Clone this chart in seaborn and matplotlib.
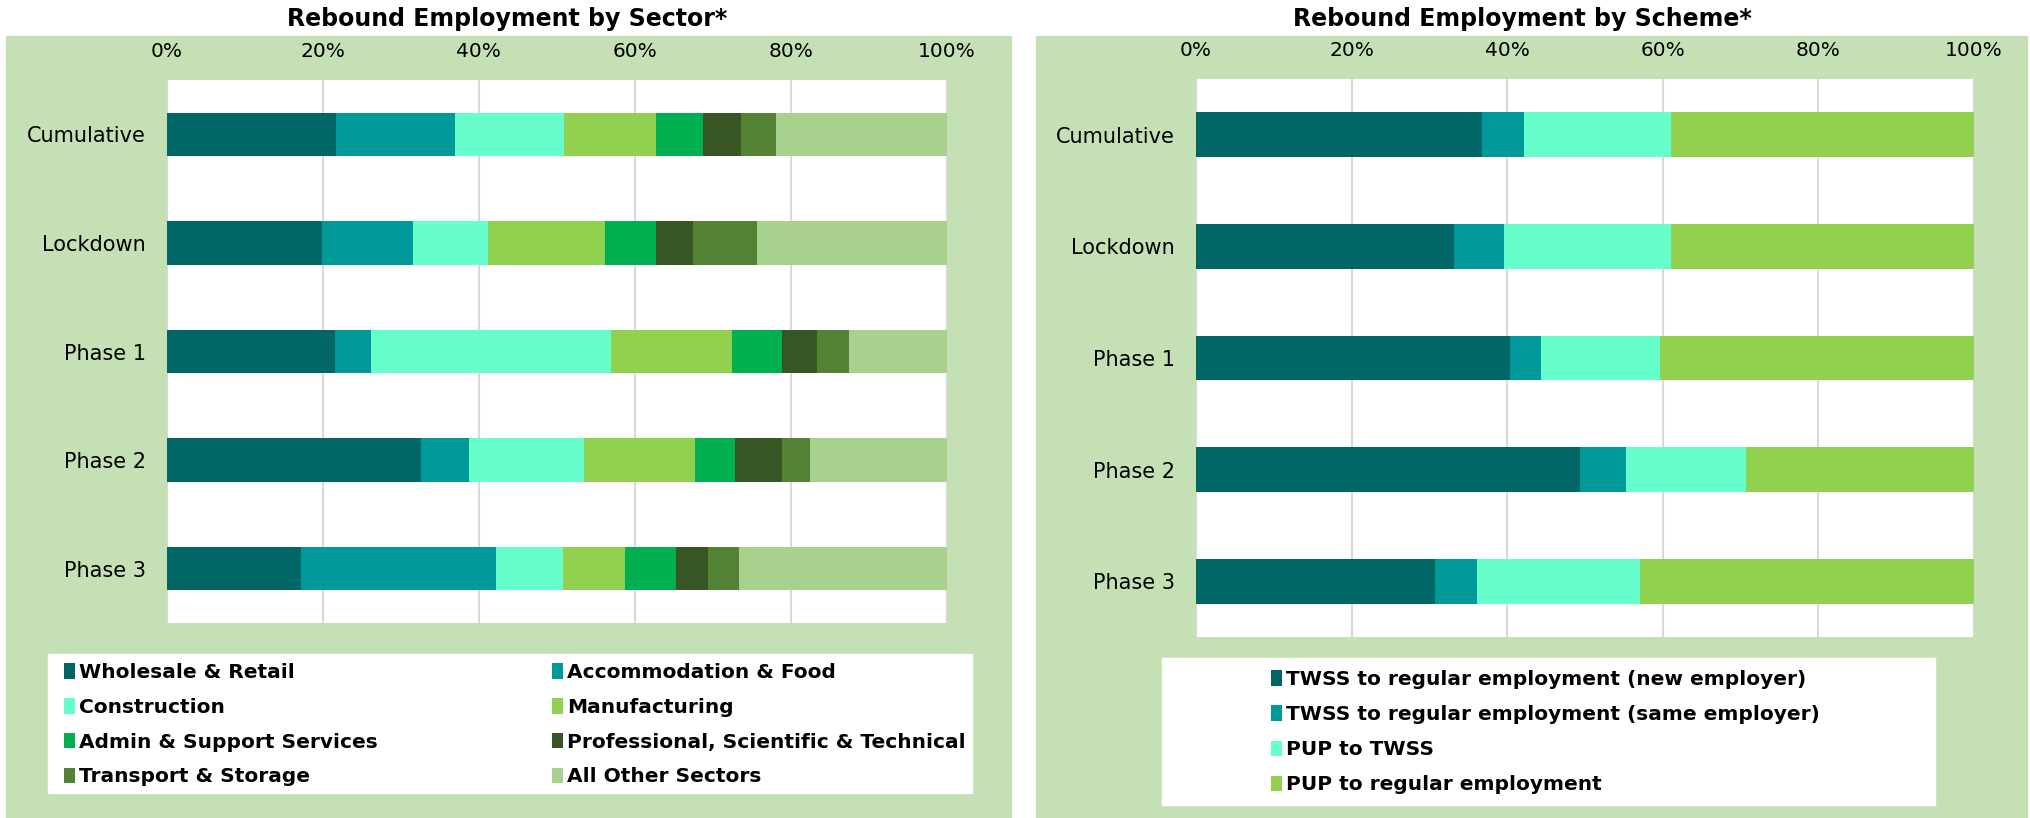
import matplotlib
matplotlib.use("Agg")
import matplotlib.pyplot as plt
from matplotlib.patches import Rectangle, Patch
from matplotlib.ticker import PercentFormatter
import numpy as np
import pandas as pd
import seaborn as sns

# --- data (percent share of each period) ---
periods = ["Cumulative", "Lockdown", "Phase 1", "Phase 2", "Phase 3"]

sectors = ["Wholesale & Retail", "Accommodation & Food", "Construction",
           "Manufacturing", "Admin & Support Services",
           "Professional, Scientific & Technical", "Transport & Storage",
           "All Other Sectors"]
wholesale_retail = [21.7, 19.9, 21.6, 32.6, 17.2]
accommodation_food = [15.2, 11.7, 4.6, 6.1, 25.0]
construction = [14.0, 9.6, 30.7, 14.8, 8.6]
manufacturing = [11.8, 15.0, 15.5, 14.2, 7.9]
admin_support = [6.0, 6.5, 6.4, 5.1, 6.6]
professional = [4.9, 4.7, 4.6, 6.0, 4.1]
transport_storage = [4.5, 8.3, 4.1, 3.7, 3.9]
all_other = [21.9, 24.3, 12.5, 17.5, 26.7]
sector_colors = ["#006666", "#009999", "#66FFCC", "#92D050",
                 "#00B050", "#375623", "#548235", "#A9D18E"]

schemes = ["TWSS to regular employment (new employer)",
           "TWSS to regular employment (same employer)",
           "PUP to TWSS", "PUP to regular employment"]
twss_new = [36.8, 33.2, 40.3, 49.4, 30.7]
twss_same = [5.4, 6.4, 4.0, 5.9, 5.4]
pup_twss = [18.9, 21.5, 15.4, 15.4, 21.0]
pup_regular = [38.9, 38.9, 40.3, 29.3, 42.9]
scheme_colors = ["#006666", "#009999", "#66FFCC", "#92D050"]

sns.set_theme(style="white")
plt.rcParams["font.family"] = ["DejaVu Sans"]
plt.rcParams["text.color"] = "black"

W, H = 2031, 818
fig = plt.figure(figsize=(W / 100, H / 100), dpi=100)
fig.patch.set_facecolor("white")

panel_green = "#C5E0B4"
fig.patches.append(Rectangle((6 / W, 0), 1005 / W, 1 - 36 / H,
                             transform=fig.transFigure, color=panel_green, zorder=-2))
fig.patches.append(Rectangle((1036 / W, 0), 991 / W, 1 - 36 / H,
                             transform=fig.transFigure, color=panel_green, zorder=-2))
# white legend boxes
fig.patches.append(Rectangle((48 / W, 1 - 793 / H), 924 / W, 139 / H,
                             transform=fig.transFigure, color="white", zorder=-1))
fig.patches.append(Rectangle((1162 / W, 1 - 805 / H), 773 / W, 147 / H,
                             transform=fig.transFigure, color="white", zorder=-1))


def stacked_panel(ax, series, names, colors):
    df = pd.DataFrame(dict(zip(names, series)), index=periods)
    cum = df.cumsum(axis=1)
    # draw the longest (cumulative) bars first so shorter ones sit on top
    for name, color in reversed(list(zip(names, colors))):
        sns.barplot(x=cum[name].values, y=periods, orient="h", color=color,
                    saturation=1, width=0.4, linewidth=0, ax=ax)
    ax.set_xlim(0, 100)
    ax.set_ylim(4.5, -0.5)
    ax.set_facecolor("white")
    ax.set_xticks(np.arange(0, 101, 20))
    ax.xaxis.set_major_formatter(PercentFormatter(decimals=0))
    ax.xaxis.tick_top()
    ax.grid(axis="x", color="#D9D9D9", linewidth=1.5)
    ax.grid(axis="y", visible=False)
    ax.set_axisbelow(True)
    for s in ax.spines.values():
        s.set_visible(False)
    ax.tick_params(axis="x", length=0, pad=14, labelsize=14.5, colors="black")
    ax.tick_params(axis="y", length=0, pad=15, labelsize=15, colors="black")
    ax.set_xlabel("")
    ax.set_ylabel("")
    ax.set_zorder(2)


ax1 = fig.add_axes([166.6 / W, 1 - 623 / H, 780.4 / W, 543 / H])
stacked_panel(ax1, [wholesale_retail, accommodation_food, construction, manufacturing,
                    admin_support, professional, transport_storage, all_other],
              sectors, sector_colors)

ax2 = fig.add_axes([1196 / W, 1 - 637 / H, 778 / W, 558 / H])
stacked_panel(ax2, [twss_new, twss_same, pup_twss, pup_regular], schemes, scheme_colors)

fig.text(507 / W, 1 - 19 / H, "Rebound Employment by Sector*", ha="center", va="center",
         fontsize=17, fontweight="bold", color="black")
fig.text(1522 / W, 1 - 19 / H, "Rebound Employment by Scheme*", ha="center", va="center",
         fontsize=17, fontweight="bold", color="black")

leg_kw = dict(frameon=False, borderpad=0, borderaxespad=0, handlelength=0.55,
              handleheight=0.8, handletextpad=0.2, labelcolor="black",
              prop=dict(size=14.5, weight="bold"))

h1 = [Patch(facecolor=c, edgecolor="none", label=n) for n, c in zip(sectors, sector_colors)]
# reorder so the two-column legend reads row by row
order = [0, 2, 4, 6, 1, 3, 5, 7]
leg1 = fig.legend([h1[i] for i in order], [sectors[i] for i in order], ncol=2,
                  loc="upper left", mode="expand",
                  bbox_to_anchor=(64 / W, 1 - 664 / H, 902 / W, 0.001),
                  labelspacing=0.78, **leg_kw)
leg1.set_zorder(3)

h2 = [Patch(facecolor=c, edgecolor="none", label=n) for n, c in zip(schemes, scheme_colors)]
leg2 = fig.legend(h2, schemes, ncol=1, loc="upper left",
                  bbox_to_anchor=(1271 / W, 1 - 670 / H),
                  labelspacing=0.8, **leg_kw)
leg2.set_zorder(3)

fig.savefig("out.png", dpi=100, facecolor=fig.get_facecolor())
